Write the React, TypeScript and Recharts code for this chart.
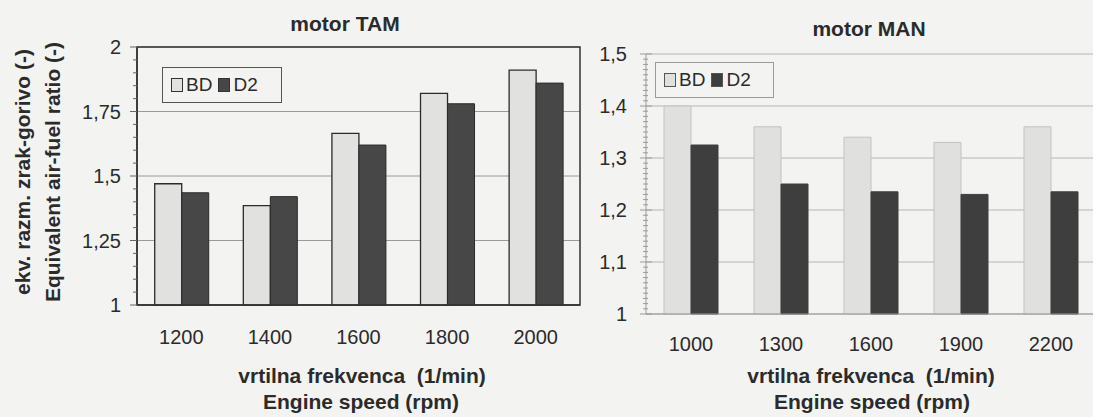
import { BarChart, Bar, XAxis, YAxis, CartesianGrid, Legend, ReferenceArea } from 'recharts';

// motor TAM
const tamRpm = ['1200', '1400', '1600', '1800', '2000'];
const tamBD = [1.47, 1.385, 1.665, 1.82, 1.91];
const tamD2 = [1.435, 1.42, 1.62, 1.78, 1.86];
const tamTicks = [1, 1.25, 1.5, 1.75, 2];

// motor MAN
const manRpm = ['1000', '1300', '1600', '1900', '2200'];
const manBD = [1.4, 1.36, 1.34, 1.33, 1.36];
const manD2 = [1.325, 1.25, 1.235, 1.23, 1.235];
const manTicks = [1, 1.1, 1.2, 1.3, 1.4, 1.5];

const tamData = tamRpm.map((rpm, i) => ({ rpm, BD: tamBD[i], D2: tamD2[i] }));
const manData = manRpm.map((rpm, i) => ({ rpm, BD: manBD[i], D2: manD2[i] }));

const minorTicks = (from: number, to: number, step: number) => {
  const out: number[] = [];
  const n = Math.round((to - from) / step);
  for (let i = 0; i <= n; i++) out.push(Math.round((from + i * step) * 1000) / 1000);
  return out;
};

const FONT = '"Liberation Sans", Arial, sans-serif';
const comma = (v: number) => String(v).replace('.', ',');

function YTick(props: any) {
  const { x, y, payload, major, gap, color, minorLeft, minorRight, majorLeft, majorRight } = props;
  const v = payload.value;
  const isMajor = major.some((m: number) => Math.abs(m - v) < 1e-6);
  return (
    <g>
      <line
        x1={x - (isMajor ? majorLeft : minorLeft)}
        x2={x + (isMajor ? majorRight : minorRight)}
        y1={y}
        y2={y}
        stroke={color}
        strokeWidth={1}
      />
      {isMajor && (
        <text x={x - gap} y={y} dy="0.36em" textAnchor="end" fontSize={20} fill="#2b2b2b" fontFamily={FONT}>
          {comma(v)}
        </text>
      )}
    </g>
  );
}

function LegendBox(props: any) {
  const { payload, border, swatchBorder } = props;
  return (
    <div
      style={{
        border: `1px solid ${border}`,
        height: 36,
        display: 'flex',
        alignItems: 'center',
        paddingLeft: 8,
        fontFamily: FONT,
        fontSize: 19,
        color: '#2b2b2b',
        boxSizing: 'border-box',
      }}
    >
      {(payload || []).map((p: any) => (
        <span key={p.value} style={{ display: 'flex', alignItems: 'center', marginRight: 6 }}>
          <span
            style={{
              width: 10,
              height: 12,
              background: p.color,
              border: `1.5px solid ${swatchBorder}`,
              marginRight: 3,
              display: 'inline-block',
            }}
          />
          {p.value}
        </span>
      ))}
    </div>
  );
}

const label = (text: string, cx: number, cy: number, extra: any = {}) => (
  <div
    style={{
      position: 'absolute',
      left: cx,
      top: cy,
      transform: 'translate(-50%, -50%)',
      whiteSpace: 'pre',
      fontFamily: FONT,
      fontWeight: 'bold',
      fontSize: 21,
      color: '#2b2b2b',
      ...extra,
    }}
  >
    {text}
  </div>
);

export default function App() {
  return (
    <div
      style={{
        position: 'fixed',
        left: 0,
        top: 0,
        width: 1093,
        height: 417,
        overflow: 'hidden',
        background: '#f3f3f1',
      }}
    >
      <div style={{ position: 'absolute', left: 0, top: 0 }}>
        <BarChart
          width={600}
          height={417}
          data={tamData}
          margin={{ top: 47, right: 20, bottom: 82, left: 0 }}
          barCategoryGap="20%"
          barGap={0}
        >
          <CartesianGrid vertical={false} horizontalValues={tamTicks} stroke="#9a9a9a" />
          <XAxis
            dataKey="rpm"
            height={30}
            tickLine={false}
            axisLine={{ stroke: '#333', strokeWidth: 1.5 }}
            tickMargin={19}
            tick={{ fontSize: 20, fill: '#2b2b2b', fontFamily: FONT }}
          />
          <YAxis
            width={137}
            type="number"
            domain={[1, 2]}
            ticks={minorTicks(1, 2, 0.05)}
            interval={0}
            tickSize={0}
            tickMargin={0}
            tickLine={false}
            axisLine={{ stroke: '#333', strokeWidth: 1.5 }}
            tick={<YTick major={tamTicks} gap={16} color="#666" minorLeft={4} minorRight={0} majorLeft={7} majorRight={0} />}
          />
          <ReferenceArea y1={1} y2={2} fill="none" stroke="#333" strokeWidth={1.5} strokeOpacity={1} />
          <Legend
            verticalAlign="middle"
            align="center"
            wrapperStyle={{ top: 67, left: 162, width: 120, height: 36 }}
            content={<LegendBox border="#555" swatchBorder="#333" />}
          />
          <Bar dataKey="BD" name="BD" fill="#e1e1df" stroke="#2b2b2b" strokeWidth={1.3} isAnimationActive={false} />
          <Bar dataKey="D2" name="D2" fill="#474747" stroke="#2b2b2b" strokeWidth={1} isAnimationActive={false} />
        </BarChart>
      </div>

      <div style={{ position: 'absolute', left: 560, top: 0 }}>
        <BarChart
          width={560}
          height={417}
          data={manData}
          margin={{ top: 54, right: 24, bottom: 73, left: 0 }}
          barCategoryGap="20%"
          barGap={0}
        >
          <CartesianGrid vertical={false} horizontalValues={manTicks} stroke="#b5b5b5" />
          <XAxis
            dataKey="rpm"
            height={30}
            tickLine={false}
            axisLine={{ stroke: '#999' }}
            tickMargin={17}
            tick={{ fontSize: 20, fill: '#2b2b2b', fontFamily: FONT }}
          />
          <YAxis
            width={86}
            type="number"
            domain={[1, 1.5]}
            ticks={minorTicks(1, 1.5, 0.01)}
            interval={0}
            tickSize={0}
            tickMargin={0}
            tickLine={false}
            axisLine={{ stroke: '#999' }}
            tick={<YTick major={manTicks} gap={19} color="#999" minorLeft={3} minorRight={2} majorLeft={6} majorRight={6} />}
          />
          <Legend
            verticalAlign="middle"
            align="center"
            wrapperStyle={{ top: 62, left: 95, width: 119, height: 38 }}
            content={<LegendBox border="#9a9a9a" swatchBorder="#555" />}
          />
          <Bar dataKey="BD" name="BD" fill="#e0e0de" stroke="#c2c2c0" strokeWidth={1} isAnimationActive={false} />
          <Bar dataKey="D2" name="D2" fill="#3e3e3e" stroke="#3e3e3e" strokeWidth={1} isAnimationActive={false} />
        </BarChart>
      </div>

      {label('motor TAM', 345, 24)}
      {label('motor MAN', 869, 29)}
      {label('ekv. razm. zrak-gorivo (-)', 23, 172, { transform: 'translate(-50%, -50%) rotate(-90deg)' })}
      {label('Equivalent air-fuel ratio (-)', 53, 172, { transform: 'translate(-50%, -50%) rotate(-90deg)' })}
      {label('vrtilna frekvenca  (1/min)', 362, 376)}
      {label('Engine speed (rpm)', 361, 402)}
      {label('vrtilna frekvenca  (1/min)', 871, 376)}
      {label('Engine speed (rpm)', 872, 402)}
    </div>
  );
}
